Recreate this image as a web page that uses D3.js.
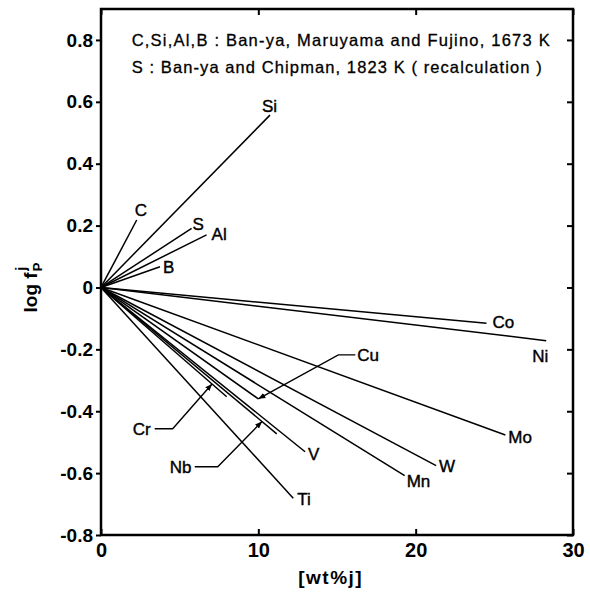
<!DOCTYPE html>
<html>
<head>
<meta charset="utf-8">
<script src="https://cdn.jsdelivr.net/npm/d3@7"></script>
<style>
  html, body { margin: 0; padding: 0; background: #fff; }
  svg { display: block; font-family: "Liberation Sans", Arial, sans-serif; }
</style>
</head>
<body>
<svg id="chart" width="590" height="592"></svg>
<script>
// ---------- data ----------
const elements = ["C", "Si", "S", "Al", "B", "Co", "Ni", "Mo", "W", "Mn", "Cu", "V", "Ti", "Cr", "Nb"];
const xEnd = [2.27, 10.74, 5.76, 6.71, 3.75, 24.5, 28.3, 25.7, 21.3, 19.3, 10.0, 12.97, 12.22, 7.99, 11.17];
const yEnd = [0.218, 0.557, 0.191, 0.170, 0.067, -0.116, -0.172, -0.477, -0.576, -0.608, -0.360, -0.531, -0.681, -0.353, -0.473];
const xTicks = [0, 10, 20, 30];
const yTicks = [-0.8, -0.6, -0.4, -0.2, 0, 0.2, 0.4, 0.6, 0.8];
const legendLines = [
  "C,Si,Al,B : Ban-ya,  Maruyama  and Fujino,  1673 K",
  "S : Ban-ya  and  Chipman,  1823 K ( recalculation )"
];
const xLabel = "[wt%j]";

// ---------- layout ----------
const L = 101, R = 573, T = 9, B = 535;
const x = d3.scaleLinear().domain([0, 30]).range([L, R]);
const y = d3.scaleLinear().domain([-0.8, 0.9]).range([B, T]);

const svg = d3.select("#chart");

// label offsets (pixels from line end to text start/baseline)
const labelOffset = {
  C: [-2, -4], Si: [-8, -3], S: [1, 2], Al: [5, 5], B: [3, 6],
  Co: [6, 5], Ni: [-14, 21], Mo: [3, 8], W: [3, 6], Mn: [2, 11],
  V: [3, 8], Ti: [4, 7], Cu: [99, -38], Cr: [-94, 38], Nb: [-107, 39]
};
// leader lines: [startDx, startDy, kneeDx] relative to label, and fraction along the line for arrow tip
const leaders = {
  Cu: { start: [-2, -6], knee: -19, frac: 1.0 },
  Cr: { start: [22, -6], knee: 40, frac: 0.883 },
  Nb: { start: [25, -6], knee: 48, frac: 0.916 }
};

// arrow marker
svg.append("defs").append("marker")
  .attr("id", "arrow").attr("viewBox", "0 0 10 10")
  .attr("refX", 10).attr("refY", 5)
  .attr("markerWidth", 7).attr("markerHeight", 7)
  .attr("markerUnits", "userSpaceOnUse")
  .attr("orient", "auto")
  .append("path").attr("d", "M0,1 L10,5 L0,9 Z").attr("fill", "#000");

// data lines
const line = d3.line().x(d => x(d[0])).y(d => y(d[1]));
const series = elements.map((e, i) => ({ name: e, pts: [[0, 0], [xEnd[i], yEnd[i]]] }));

svg.append("g").selectAll("path").data(series).join("path")
  .attr("d", d => line(d.pts))
  .attr("fill", "none").attr("stroke", "#000").attr("stroke-width", 1.5);

// element labels
svg.append("g").selectAll("text").data(series).join("text")
  .attr("x", d => x(d.pts[1][0]) + labelOffset[d.name][0])
  .attr("y", d => y(d.pts[1][1]) + labelOffset[d.name][1])
  .attr("font-size", 17)
  .attr("fill", "#000").attr("stroke", "#000").attr("stroke-width", 0.4)
  .text(d => d.name);

// leaders
const leaderData = series.filter(d => leaders[d.name]);
svg.append("g").selectAll("path").data(leaderData).join("path")
  .attr("d", d => {
    const lx = x(d.pts[1][0]) + labelOffset[d.name][0];
    const ly = y(d.pts[1][1]) + labelOffset[d.name][1];
    const c = leaders[d.name];
    const sx = lx + c.start[0], sy = ly + c.start[1];
    const kx = lx + c.knee;
    const tx = x(d.pts[1][0] * c.frac), ty = y(d.pts[1][1] * c.frac);
    return `M${sx},${sy}L${kx},${sy}L${tx},${ty}`;
  })
  .attr("fill", "none").attr("stroke", "#000").attr("stroke-width", 1.4)
  .attr("marker-end", "url(#arrow)");

// axes
const yFmt = d => d === 0 ? "0" : d.toFixed(1);
const gL = svg.append("g").attr("transform", `translate(${L},0)`)
  .call(d3.axisLeft(y).tickValues(yTicks).tickSize(5).tickPadding(3).tickFormat(yFmt));
gL.selectAll("text").attr("font-size", 19).attr("font-weight", "bold").attr("fill", "#000");

const gR = svg.append("g").attr("transform", `translate(${R},0)`)
  .call(d3.axisRight(y).tickValues(yTicks).tickSize(-6).tickFormat(""));

const gT = svg.append("g").attr("transform", `translate(0,${T})`)
  .call(d3.axisTop(x).tickValues(xTicks).tickSize(-6).tickFormat(""));

const gB = svg.append("g").attr("transform", `translate(0,${B})`)
  .call(d3.axisBottom(x).tickValues(xTicks).tickSize(-6).tickPadding(8).tickFormat(d3.format("d")));
gB.selectAll("text").attr("font-size", 20).attr("font-weight", "bold").attr("fill", "#000");

[gL, gR, gT, gB].forEach(g => {
  g.select(".domain").remove();
  g.selectAll(".tick line").attr("stroke", "#000").attr("stroke-width", 2);
});

// frame
svg.append("rect")
  .attr("x", L).attr("y", T).attr("width", R - L).attr("height", B - T)
  .attr("fill", "none").attr("stroke", "#000").attr("stroke-width", 2.5);

// legend text
svg.append("g").selectAll("text").data(legendLines).join("text")
  .attr("x", x(1.95))
  .attr("y", (d, i) => y(0.78) + i * 27)
  .attr("font-size", 16.5)
  .attr("fill", "#000").attr("stroke", "#000").attr("stroke-width", 0.3)
  .attr("textLength", (d, i) => i === 0 ? 418 : 410)
  .attr("lengthAdjust", "spacing")
  .text(d => d);

// x axis label
svg.append("text")
  .attr("x", x(14.6)).attr("y", 584)
  .attr("text-anchor", "middle")
  .attr("font-size", 19).attr("font-weight", "bold")
  .attr("letter-spacing", 1.5)
  .text(xLabel);

// y axis label: log f_P^j
const yl = svg.append("text")
  .attr("transform", `translate(37,${y(0.0) + 25}) rotate(-90)`)
  .attr("font-size", 19).attr("font-weight", "bold");
yl.append("tspan").text("log f");
yl.append("tspan").attr("font-size", 13).attr("dy", 5).attr("dx", 1).text("P");
yl.append("tspan").attr("font-size", 14).attr("dy", -16).attr("dx", -8).text("j");
</script>
</body>
</html>
